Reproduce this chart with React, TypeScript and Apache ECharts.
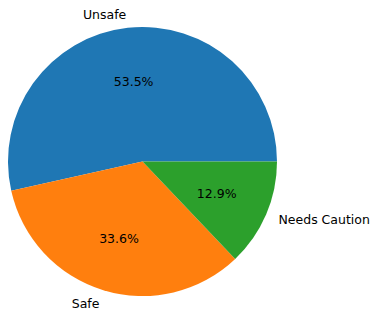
import React, { useEffect, useRef } from "react";
import * as echarts from "echarts";

const categories = ["Unsafe", "Safe", "Needs Caution"];
const shares = [53.5, 33.6, 12.9];
const colors = ["#1f77b4", "#ff7f0e", "#2ca02c"];

export default function App() {
  const ref = useRef<HTMLDivElement>(null);
  useEffect(() => {
    if (!ref.current) return;
    const chart = echarts.init(ref.current, undefined, { renderer: "svg" });
    const cx = 142.5;
    const cy = 161.5;
    const r = 134.5;
    const font = { fontFamily: "DejaVu Sans", fontSize: 12.5, color: "#000" };
    const data = categories.map((name, i) => ({
      name,
      value: shares[i],
      itemStyle: { color: colors[i] },
    }));
    chart.setOption({
      animation: false,
      backgroundColor: "#ffffff",
      series: [
        {
          type: "pie",
          center: [cx, cy],
          radius: r,
          startAngle: 0,
          clockwise: false,
          avoidLabelOverlap: false,
          silent: true,
          itemStyle: { borderWidth: 0 },
          label: {
            show: true,
            position: "outside",
            formatter: "{b}",
            distanceToLabelLine: 0,
            alignTo: "none",
            overflow: "none",
            ...font,
          },
          labelLine: { show: false, length: r * 0.1, length2: 0 },
          data,
        },
        {
          type: "pie",
          center: [cx, cy],
          radius: (0.6 * r - 3) * 2,
          startAngle: 0,
          clockwise: false,
          avoidLabelOverlap: false,
          silent: true,
          itemStyle: { color: "transparent", borderWidth: 0 },
          label: {
            show: true,
            position: "inside",
            formatter: (p: any) => p.value.toFixed(1) + "%",
            ...font,
          },
          labelLine: { show: false },
          data: categories.map((name, i) => ({
            name,
            value: shares[i],
            itemStyle: { color: "rgba(0,0,0,0)" },
          })),
        },
      ],
    });
    return () => chart.dispose();
  }, []);
  return (
    <div
      ref={ref}
      style={{ position: "fixed", left: 0, top: 0, width: 371, height: 311 }}
    />
  );
}
